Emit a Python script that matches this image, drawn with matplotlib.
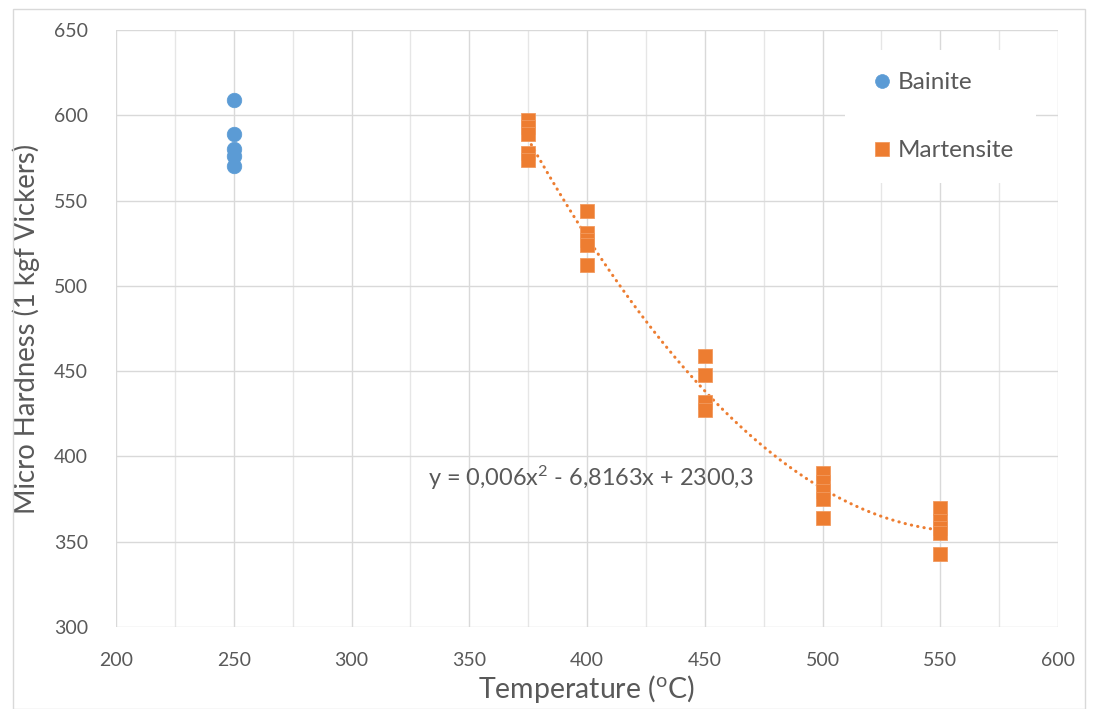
import numpy as np
import matplotlib
matplotlib.use("Agg")
import matplotlib.pyplot as plt
from matplotlib.patches import Rectangle

plt.rcParams['font.family'] = ['Lato', 'DejaVu Sans']
plt.rcParams['mathtext.fontset'] = 'custom'
plt.rcParams['mathtext.rm'] = 'Lato'
plt.rcParams['mathtext.it'] = 'Lato'

# Data
bainite_x = [250, 250, 250, 250, 250]
bainite_y = [609, 589, 580, 576, 570]

mart_x = [375, 375, 375, 375, 375,
          400, 400, 400, 400, 400,
          450, 450, 450, 450,
          500, 500, 500, 500, 500,
          550, 550, 550, 550, 550]
mart_y = [597, 593, 589, 578, 574,
          544, 531, 527, 524, 512,
          459, 448, 432, 427,
          390, 385, 380, 375, 364,
          370, 362, 358, 355, 343]

equation = 'y = 0,006x$^{2}$ - 6,8163x + 2300,3'
xlabel = r'Temperature ($^{\mathrm{o}}$C)'
ylabel = 'Micro Hardness (1 kgf Vickers)'

blue = '#5B9BD5'
orange = '#ED7D31'
txt = '#595959'

fig = plt.figure(figsize=(10.94, 7.09), dpi=100)
ax = fig.add_axes([116/1094, 1-627/709, (1058-116)/1094, (627-30)/709])

ax.set_xlim(200, 600)
ax.set_ylim(300, 650)
ax.set_xticks(np.arange(200, 601, 50))
ax.set_xticks(np.arange(200, 601, 25), minor=True)
ax.set_yticks(np.arange(300, 651, 50))
ax.grid(which='major', color='#D9D9D9', lw=1.0)
ax.grid(which='minor', axis='x', color='#E6E6E6', lw=1.0)
ax.set_axisbelow(True)
for s in ax.spines.values():
    s.set_visible(False)
ax.tick_params(which='both', length=0, labelsize=14, colors=txt)
ax.tick_params(axis='x', pad=18)
ax.tick_params(axis='y', pad=20)

# trendline (2nd order polynomial fit)
coef = np.polyfit(mart_x, mart_y, 2)
xs = np.linspace(min(mart_x), max(mart_x), 200)
ax.plot(xs, np.polyval(coef, xs), color=orange, lw=2.2, ls=(0, (0.1, 2.0)),
        dash_capstyle='round', zorder=2)

ax.plot(bainite_x, bainite_y, 'o', ms=10.5, color=blue, mec=blue, mew=0.5,
        label='Bainite', zorder=3)
ax.plot(mart_x, mart_y, 's', ms=10.5, color=orange, mec='#F29A5E', mew=0.6,
        label='Martensite', zorder=3)

ax.text(401.7, 387.5, equation, ha='center', va='center', fontsize=16.9, color=txt)

ax.set_xlabel(xlabel, fontsize=20.5, color=txt, labelpad=3)
ax.set_ylabel(ylabel, fontsize=19.8, color=txt, labelpad=10)

leg = ax.legend(loc='upper left', bbox_to_anchor=((845-116)/942, (627-50)/597),
                fontsize=17.5, frameon=True, fancybox=False, framealpha=1,
                facecolor='white', edgecolor='none', labelspacing=1.92,
                handlelength=1.2, handletextpad=0.05, borderpad=0.92,
                borderaxespad=0, markerscale=0.95)
for t in leg.get_texts():
    t.set_color(txt)

fig.patches.append(Rectangle((0.012, 0.0), 0.98, 0.988, transform=fig.transFigure,
                             fill=False, edgecolor='#D9D9D9', lw=1.0))

fig.savefig('out.png', dpi=100)
